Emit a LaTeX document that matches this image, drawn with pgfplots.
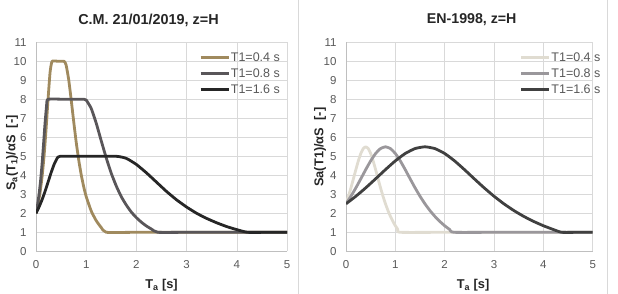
\documentclass[border=0pt]{standalone}
\usepackage{fontspec}
\setmainfont{Liberation Sans}
\usepackage{pgfplots}
\pgfplotsset{compat=1.18}
\definecolor{ca}{HTML}{A08A5E}
\definecolor{cb}{HTML}{595659}
\definecolor{cc}{HTML}{262626}
\definecolor{da}{HTML}{E0DCD1}
\definecolor{db}{HTML}{9A979B}
\definecolor{dc}{HTML}{404040}
\definecolor{gridc}{HTML}{D9D9D9}
\definecolor{axisc}{HTML}{BFBFBF}
\definecolor{tickc}{HTML}{595959}
\definecolor{titc}{HTML}{262626}

\pgfplotsset{
  mybase/.style={
    scale only axis, width=251pt, height=209pt,
    xmin=0, xmax=5, ymin=0, ymax=11,
    xtick={0,1,2,3,4,5}, ytick={0,1,...,11},
    grid=major, major grid style={draw=gridc, line width=0.6pt},
    axis x line*=bottom, axis y line*=left,
    axis line style={draw=axisc, line width=0.7pt, -},
    major tick length=0pt,
    tick label style={font=\fontsize{11.5}{13}\selectfont, text=tickc},
    yticklabel style={xshift=-6pt},
    xticklabel style={yshift=-6pt},
    /pgf/number format/assume math mode=true,
    legend cell align=left,
    legend image code/.code={\draw[##1, line width=2.8pt] (0pt,0pt) -- (28pt,0pt);},
    legend style={draw=none, fill=none, anchor=north west, inner sep=0pt,
      font=\fontsize{12.5}{14}\selectfont, text=tickc, row sep=4pt,
      nodes={inner xsep=1pt, inner ysep=1pt}},
    every axis plot/.append style={line width=2.8pt, line join=round, smooth, tension=0.3},
    label style={font=\bfseries\fontsize{12.8}{14}\selectfont, text=titc},
  }
}

\begin{document}
\begin{tikzpicture}
\useasboundingbox (0,0) rectangle (618pt,294pt);
\draw[gridc, line width=0.8pt] (298.5pt,0) -- (298.5pt,294pt);
\draw[gridc, line width=0.8pt] (607.5pt,0) -- (607.5pt,294pt);

\node[font=\bfseries\fontsize{14.4}{16}\selectfont, text=titc] at (148.5pt,274pt) {C.M. 21/01/2019, z=H};
\node[font=\bfseries\fontsize{14.2}{16}\selectfont, text=titc] at (471.7pt,274pt) {EN-1998, z=H};

\begin{axis}[mybase, at={(36pt,42.7pt)}, anchor=south west,
  legend style={at={(0.649,0.958)}},
  xlabel={T\textsubscript{a} [s]},
  ylabel={S\textsubscript{a}(T\textsubscript{1})/αS\ \ [-]},
  xlabel style={at={(axis description cs:0.5,-0.161)}, anchor=center},
  ylabel style={at={(axis description cs:-0.095,0.47)}, anchor=center, rotate=0},
]
\addplot[ca] coordinates {
(0,2) (0.04,2.46) (0.08,3.08) (0.12,3.90) (0.16,5.0) (0.20,6.40) (0.24,8.0) (0.28,9.41) (0.32,10)
(0.44,10) (0.56,10) (0.60,9.80) (0.65,9.06) (0.70,8.0) (0.75,6.85) (0.80,5.76) (0.85,4.82) (0.90,4.04)
(0.95,3.40) (1.0,2.88) (1.1,2.12) (1.2,1.61) (1.3,1.25) (1.4,1.0) (2.0,1.0) (3.0,1.0) (4.0,1.0) (5.0,1.0)};
\addlegendentry{T1=0.4 s}
\addplot[cb] coordinates {
(0,2) (0.03,2.43) (0.06,2.98) (0.09,3.68) (0.12,4.57) (0.15,5.63) (0.18,6.74) (0.21,7.64) (0.24,8)
(0.6,8) (0.96,8) (1.0,7.96) (1.1,7.52) (1.2,6.74) (1.3,5.81) (1.4,4.91) (1.5,4.10) (1.6,3.43)
(1.7,2.87) (1.8,2.43) (1.9,2.06) (2.0,1.77) (2.1,1.53) (2.2,1.33) (2.3,1.17) (2.426,1.0) (3.0,1.0) (4.0,1.0) (5.0,1.0)};
\addlegendentry{T1=0.8 s}
\addplot[cc] coordinates {
(0,2) (0.06,2.33) (0.12,2.71) (0.18,3.15) (0.24,3.64) (0.30,4.13) (0.36,4.57) (0.42,4.89) (0.48,5)
(1.0,5) (1.6,5) (1.8,4.89) (2.0,4.57) (2.2,4.13) (2.4,3.64) (2.6,3.15) (2.8,2.71) (3.0,2.33)
(3.2,2.0) (3.4,1.73) (3.6,1.50) (3.8,1.30) (4.0,1.14) (4.213,1.0) (4.6,1.0) (5.0,1.0)};
\addlegendentry{T1=1.6 s}
\end{axis}

\begin{axis}[mybase, width=246.7pt, at={(346pt,42.7pt)}, anchor=south west,
  legend style={at={(0.703,0.958)}},
  xlabel={T\textsubscript{a} [s]},
  ylabel={Sa(T1)/αS\ \ [-]},
  xlabel style={at={(axis description cs:0.515,-0.161)}, anchor=center},
  ylabel style={at={(axis description cs:-0.105,0.498)}, anchor=center, rotate=0},
]
\addplot[da] coordinates {
(0,2.5) (0.05,2.898) (0.1,3.34) (0.15,3.815) (0.2,4.3) (0.25,4.76) (0.3,5.147) (0.35,5.408) (0.4,5.5)
(0.45,5.408) (0.5,5.147) (0.55,4.76) (0.6,4.3) (0.65,3.815) (0.7,3.34) (0.75,2.898) (0.8,2.5)
(0.85,2.148) (0.9,1.841) (0.95,1.576) (1.0,1.346) (1.05,1.148) (1.093,1.0) (2.0,1.0) (3.0,1.0) (4.0,1.0) (5.0,1.0)};
\addlegendentry{T1=0.4 s}
\addplot[db] coordinates {
(0,2.5) (0.1,2.898) (0.2,3.34) (0.3,3.815) (0.4,4.3) (0.5,4.76) (0.6,5.147) (0.7,5.408) (0.8,5.5)
(0.9,5.408) (1.0,5.147) (1.1,4.76) (1.2,4.3) (1.3,3.815) (1.4,3.34) (1.5,2.898) (1.6,2.5)
(1.7,2.148) (1.8,1.841) (1.9,1.576) (2.0,1.346) (2.1,1.148) (2.186,1.0) (3.0,1.0) (4.0,1.0) (5.0,1.0)};
\addlegendentry{T1=0.8 s}
\addplot[dc] coordinates {
(0,2.5) (0.2,2.898) (0.4,3.34) (0.6,3.815) (0.8,4.3) (1.0,4.76) (1.2,5.147) (1.4,5.408) (1.6,5.5)
(1.8,5.408) (2.0,5.147) (2.2,4.76) (2.4,4.3) (2.6,3.815) (2.8,3.34) (3.0,2.898) (3.2,2.5)
(3.4,2.148) (3.6,1.841) (3.8,1.576) (4.0,1.346) (4.2,1.148) (4.371,1.0) (4.7,1.0) (5.0,1.0)};
\addlegendentry{T1=1.6 s}
\end{axis}
\end{tikzpicture}
\end{document}
